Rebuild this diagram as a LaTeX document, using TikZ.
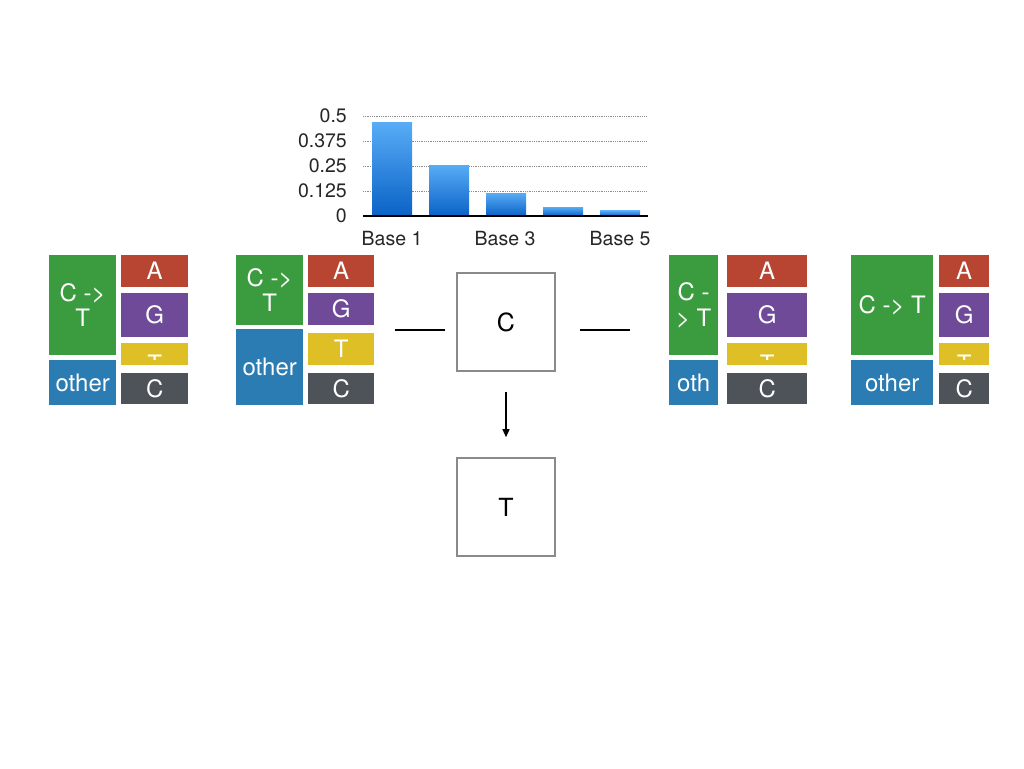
\documentclass[tikz,border=0pt]{standalone}
\usepackage{fontspec}
\setmainfont{TeX Gyre Heros}
\usetikzlibrary{positioning,calc,arrows.meta}
\definecolor{tgreen}{HTML}{3B9B3F}
\definecolor{tred}{HTML}{B84531}
\definecolor{tpurple}{HTML}{6E4A98}
\definecolor{tyellow}{HTML}{DEBF26}
\definecolor{tgrey}{HTML}{4E535A}
\definecolor{tblue}{HTML}{2C7CB4}
\definecolor{bartop}{HTML}{58ACF6}
\definecolor{barbot}{HTML}{0A62C6}
\definecolor{frame}{HTML}{8A8A8A}

\begin{document}
\begin{tikzpicture}[x=1pt,y=-1pt,
  tile/.style={anchor=north west,inner sep=0,text=white,align=center,
    font=\fontsize{24}{25.5}\selectfont},
  base/.style={draw=frame,line width=1.6pt,minimum size=98pt,inner sep=0,
    font=\fontsize{25}{27}\selectfont},
  lbl/.style={inner sep=0,font=\fontsize{19.5}{21}\selectfont,text=black!85},
  >={Triangle[length=8pt,width=7pt]}]
\useasboundingbox (0,0) rectangle (1024,768);

% bar chart
\foreach \v/\t in {0.5/0.5,0.375/0.375,0.25/0.25,0.125/0.125}
  \draw[black!45,densely dotted,line width=0.8pt] (363,216-\v*200) -- (647,216-\v*200);
\foreach \v/\t [count=\i] in {0.5/0.5,0.375/0.375,0.25/0.25,0.125/0.125,0/0}
  \node[lbl,anchor=east] (y\i) at (347,216-\v*200) {\t};
\foreach \h [count=\i] in {0.467,0.255,0.115,0.045,0.027}
  \shade[top color=bartop,bottom color=barbot]
    (372+57*\i-57,216) rectangle (412+57*\i-57,216-\h*200);
\draw[black,line width=1.3pt] (363,216) -- (648,216);
\node[lbl] (b1) at (392,239) {Base 1};
\node[lbl] (b3) at (505,239) {Base 3};
\node[lbl] (b5) at (620,239) {Base 5};

% group 1
\node[tile,fill=tgreen,minimum width=67,minimum height=100] (g1c) at (49,255) {C ->\\T};
\node[tile,fill=tblue,minimum width=67,minimum height=45] (g1o) at (49,360) {other};
\node[tile,fill=tred,minimum width=67,minimum height=32] (g1a) at (121,255) {A};
\node[tile,fill=tpurple,minimum width=67,minimum height=44] (g1g) at (121,293) {G};
\node[tile,fill=tyellow,minimum width=67,minimum height=22] (g1t) at (121,343) {};
\node[tile,fill=tgrey,minimum width=67,minimum height=31] (g1x) at (121,373) {C};

% group 2
\node[tile,fill=tgreen,minimum width=67,minimum height=70] (g2c) at (236,255) {C ->\\T};
\node[tile,fill=tblue,minimum width=67,minimum height=76] (g2o) at (236,329) {other};
\node[tile,fill=tred,minimum width=66,minimum height=32] (g2a) at (308,255) {A};
\node[tile,fill=tpurple,minimum width=66,minimum height=32] (g2g) at (308,293) {G};
\node[tile,fill=tyellow,minimum width=66,minimum height=32] (g2t) at (308,333) {T};
\node[tile,fill=tgrey,minimum width=66,minimum height=31] (g2x) at (308,373) {C};

% group 3
\node[tile,fill=tgreen,minimum width=49,minimum height=100] (g3c) at (669,255) {C -\\> T};
\node[tile,fill=tblue,minimum width=49,minimum height=45] (g3o) at (669,360) {oth};
\node[tile,fill=tred,minimum width=80,minimum height=32] (g3a) at (727,255) {A};
\node[tile,fill=tpurple,minimum width=80,minimum height=44] (g3g) at (727,293) {G};
\node[tile,fill=tyellow,minimum width=80,minimum height=22] (g3t) at (727,343) {};
\node[tile,fill=tgrey,minimum width=80,minimum height=31] (g3x) at (727,373) {C};

% group 4
\node[tile,fill=tgreen,minimum width=82,minimum height=100] (g4c) at (851,255) {C -> T};
\node[tile,fill=tblue,minimum width=82,minimum height=45] (g4o) at (851,360) {other};
\node[tile,fill=tred,minimum width=50,minimum height=32] (g4a) at (939,255) {A};
\node[tile,fill=tpurple,minimum width=50,minimum height=44] (g4g) at (939,293) {G};
\node[tile,fill=tyellow,minimum width=50,minimum height=22] (g4t) at (939,343) {};
\node[tile,fill=tgrey,minimum width=50,minimum height=31] (g4x) at (939,373) {C};

% cut-off T in the thin yellow tiles
\foreach \n in {g1t,g3t,g4t}{
  \begin{scope}
    \clip (\n.north west) rectangle ($(\n.south east)+(0,-6)$);
    \node[inner sep=0,anchor=north,text=white,font=\fontsize{24}{25}\selectfont]
      at ($(\n.north)+(0,12)$) {T};
  \end{scope}
}

% centre
\node[base] (c) at (506,322) {C};
\node[base] (t) at (506,507) {T};
\coordinate (l1) at (395,330);
\coordinate (l2) at (445,330);
\coordinate (r1) at (580,330);
\coordinate (r2) at (630,330);
\draw[line width=1.3pt] (l1) -- (l2);
\draw[line width=1.3pt] (r1) -- (r2);
\draw[->,line width=1.3pt,shorten <=20pt,shorten >=20pt] (c) -- (t);
\end{tikzpicture}
\end{document}
